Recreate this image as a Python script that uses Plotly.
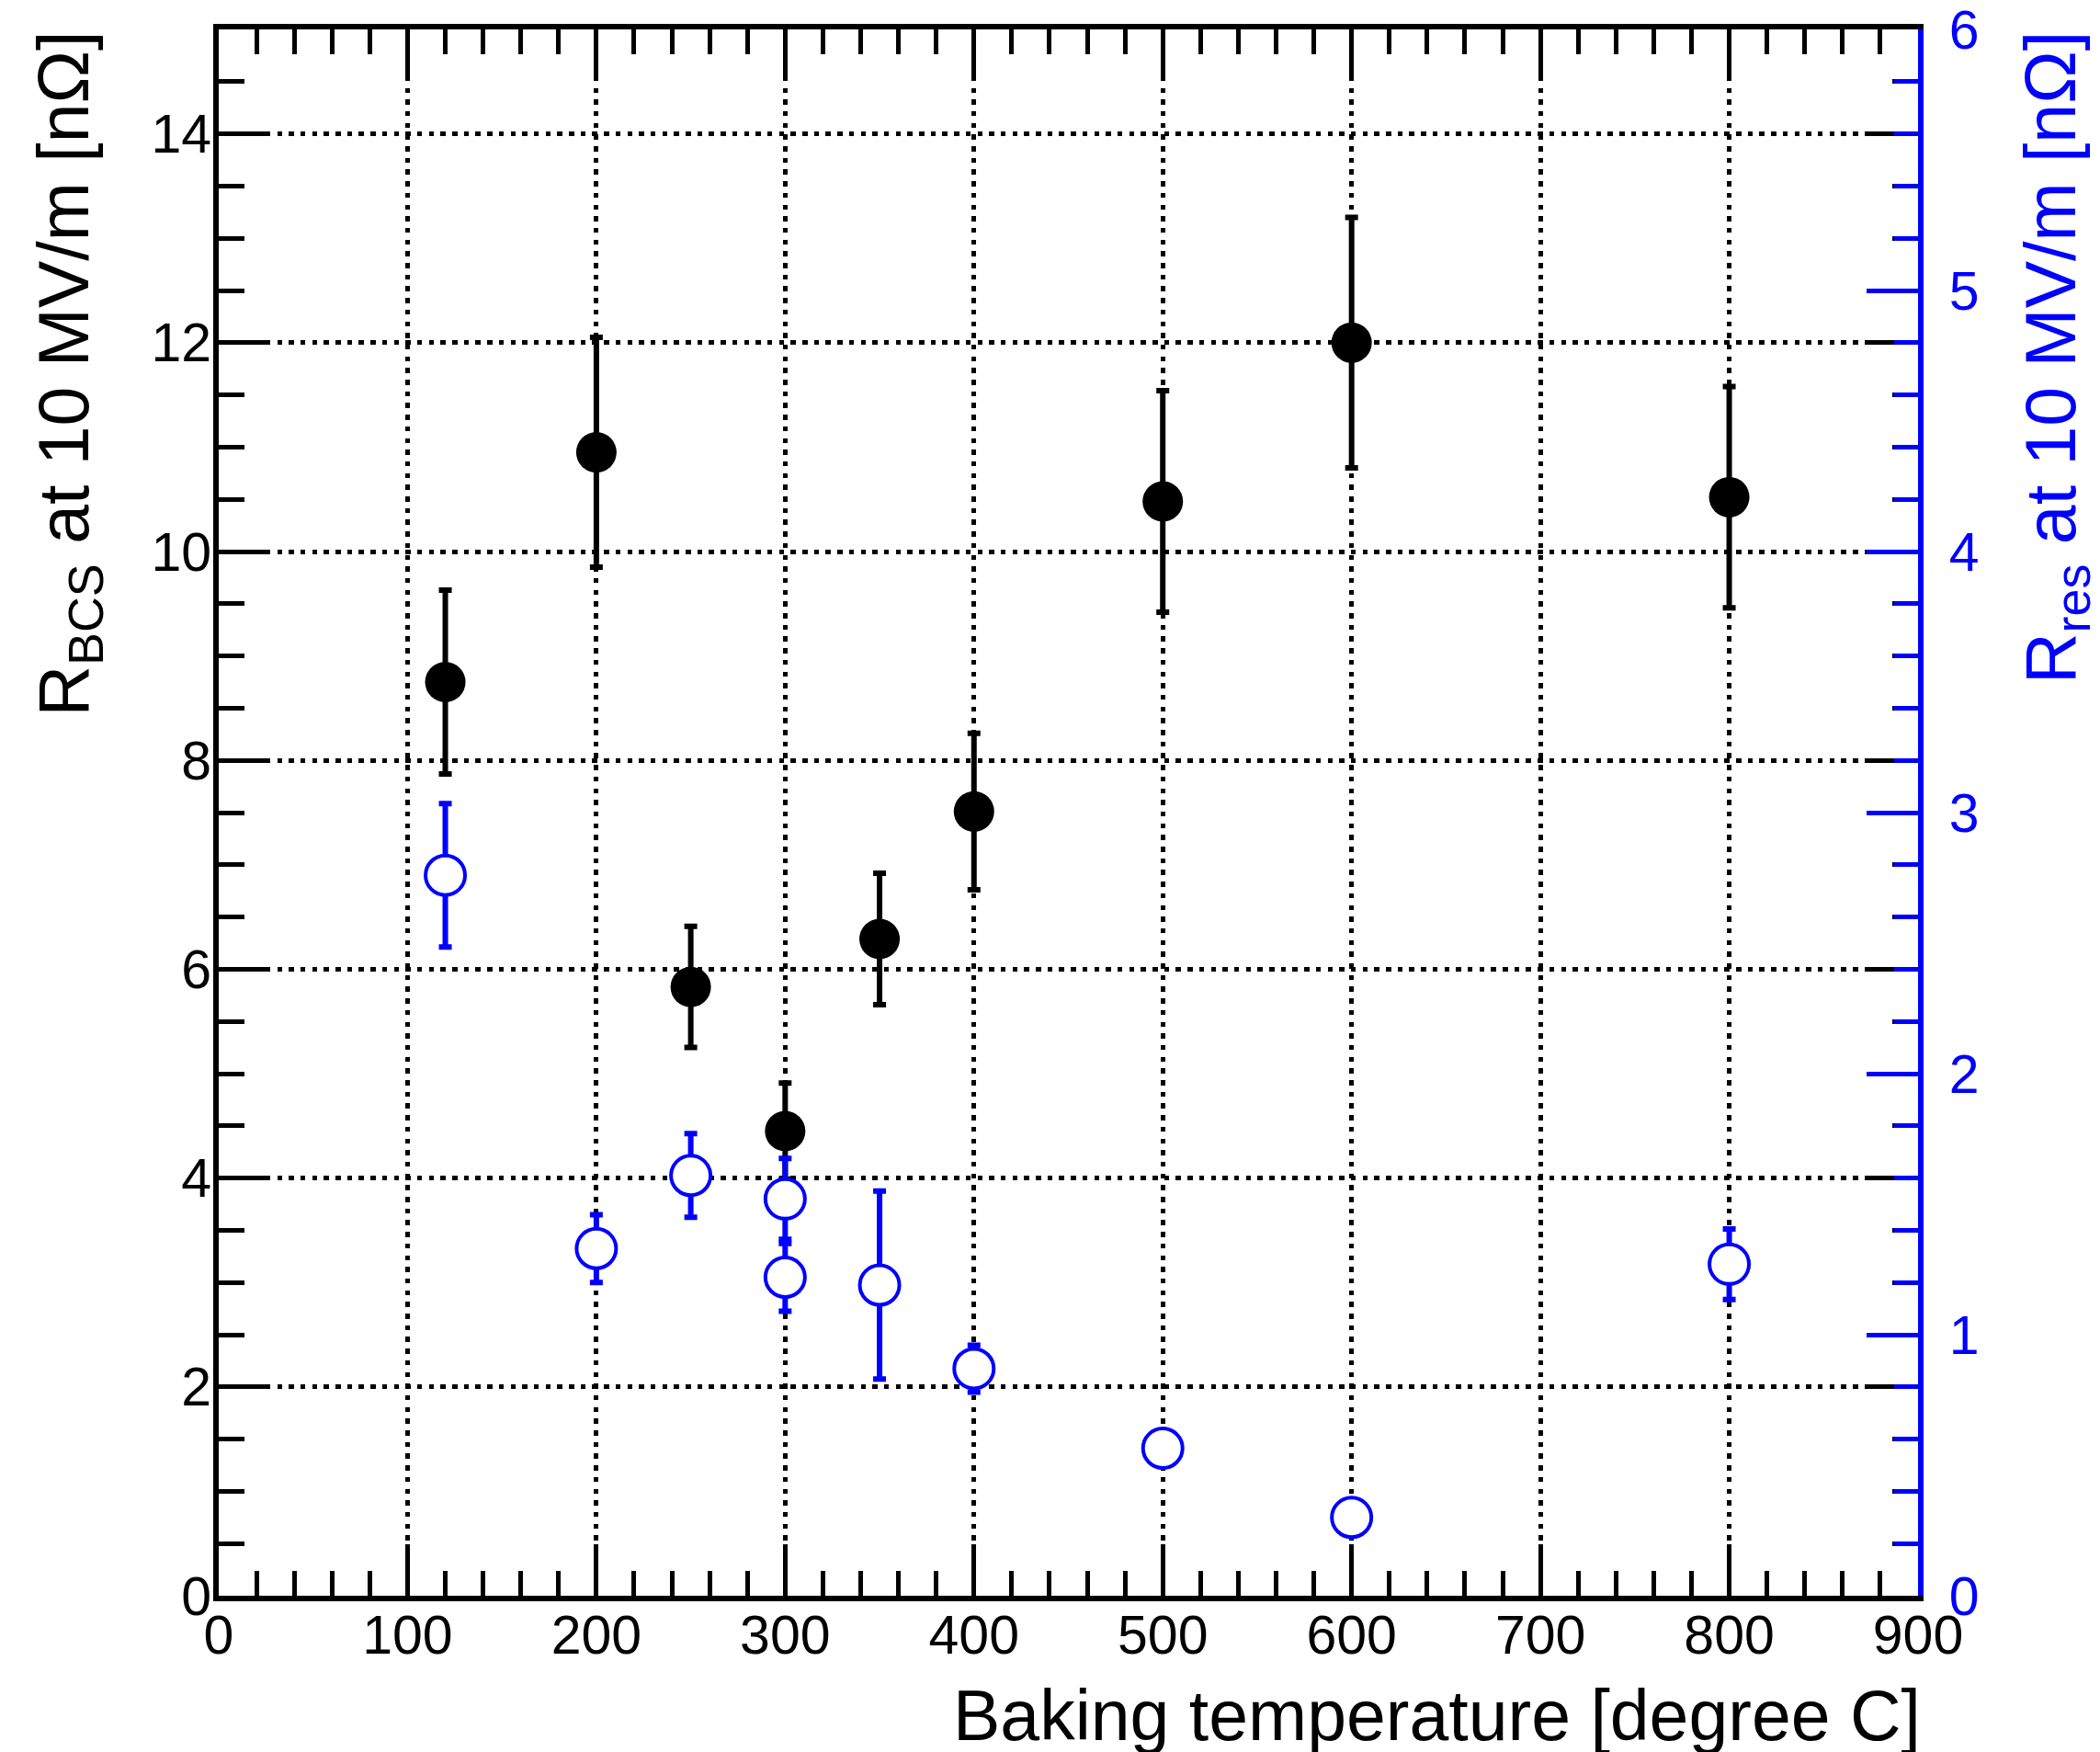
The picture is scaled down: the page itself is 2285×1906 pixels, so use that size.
import plotly.graph_objects as go

# ---- data ----
temps_bcs = [120, 200, 250, 300, 350, 400, 500, 600, 800]
r_bcs = [8.75, 10.95, 5.83, 4.45, 6.29, 7.51, 10.48, 12.0, 10.52]
r_bcs_err = [0.88, 1.10, 0.58, 0.46, 0.63, 0.75, 1.06, 1.20, 1.06]

temps_res = [120, 200, 250, 300, 300, 350, 400, 500, 600, 800]
r_res = [2.76, 1.33, 1.61, 1.52, 1.22, 1.19, 0.87, 0.565, 0.30, 1.27]
r_res_err = [0.275, 0.13, 0.16, 0.155, 0.13, 0.36, 0.09, 0.04, 0.04, 0.135]

x_title = "Baking temperature [degree C]"
y_title = "R<sub>BCS</sub> at 10 MV/m [nΩ]"
y2_title = "R<sub>res</sub> at 10 MV/m [nΩ]"

FONT = "Liberation Sans, Arial, Helvetica, sans-serif"
BLUE = "#0000ff"
TICKFONT = 59
TITLEFONT = 77

fig = go.Figure()

fig.add_trace(go.Scatter(
    x=temps_bcs, y=r_bcs, mode="markers",
    marker=dict(symbol="circle", size=44, color="black", line=dict(width=0)),
    error_y=dict(type="data", array=r_bcs_err, visible=True, color="black",
                 thickness=6, width=7),
    showlegend=False, yaxis="y", cliponaxis=False,
))

fig.add_trace(go.Scatter(
    x=temps_res, y=r_res, mode="markers",
    marker=dict(symbol="circle", size=43, color="white", line=dict(width=4, color=BLUE)),
    error_y=dict(type="data", array=r_res_err, visible=True, color=BLUE,
                 thickness=6, width=7),
    showlegend=False, yaxis="y2", cliponaxis=False,
))

common_grid = dict(gridcolor="black", gridwidth=4.5, griddash="5.5px,7.2px")

fig.update_layout(
    width=2277, height=1898,
    margin=dict(l=230, r=198, t=24, b=170, pad=0, autoexpand=False),
    paper_bgcolor="white", plot_bgcolor="white",
    font=dict(family=FONT, color="black"),
    xaxis=dict(
        range=[0, 900], dtick=100, tick0=0, automargin=False,
        showline=True, linecolor="black", linewidth=6, mirror="ticks",
        ticks="inside", ticklen=56, tickwidth=5, tickcolor="black",
        minor=dict(dtick=20, ticks="inside", ticklen=27, tickwidth=5,
                   tickcolor="black", showgrid=False),
        showgrid=True, **common_grid, zeroline=False,
        ticklabelstandoff=-14, ticklabeloverflow="allow",
        tickfont=dict(size=TICKFONT, family=FONT, color="black"),
    ),
    yaxis=dict(
        range=[0, 15], dtick=2, tick0=0, automargin=False,
        showline=True, linecolor="black", linewidth=6, mirror="ticks",
        ticks="inside", ticklen=56, tickwidth=5, tickcolor="black",
        minor=dict(dtick=0.5, ticks="inside", ticklen=28, tickwidth=5,
                   tickcolor="black", showgrid=False),
        showgrid=True, **common_grid, zeroline=False,
        ticklabelstandoff=-10, ticklabeloverflow="allow",
        tickfont=dict(size=TICKFONT, family=FONT, color="black"),
    ),
    yaxis2=dict(
        range=[0, 6.0005], dtick=1, tick0=0, overlaying="y", side="right",
        automargin=False,
        showline=True, linecolor=BLUE, linewidth=6,
        ticks="inside", ticklen=56, tickwidth=5, tickcolor=BLUE,
        minor=dict(dtick=0.2, ticks="inside", ticklen=26, tickwidth=5,
                   tickcolor=BLUE, showgrid=False),
        showgrid=False, zeroline=False,
        ticklabelstandoff=16, ticklabeloverflow="allow",
        tickfont=dict(size=TICKFONT, family=FONT, color=BLUE),
    ),
    annotations=[
        dict(text=x_title, xref="paper", yref="paper", x=1.0, y=-0.0765,
             xanchor="right", yanchor="middle", showarrow=False, xshift=5,
             font=dict(size=TITLEFONT, family=FONT, color="black")),
        dict(text=y_title, xref="paper", yref="paper", x=-0.0889, y=1.0,
             xanchor="center", yanchor="top", textangle=-90, showarrow=False,
             font=dict(size=TITLEFONT, family=FONT, color="black")),
        dict(text=y2_title, xref="paper", yref="paper", x=1.0806, y=1.0,
             xanchor="center", yanchor="top", textangle=-90, showarrow=False,
             font=dict(size=TITLEFONT, family=FONT, color=BLUE)),
    ],
)

fig.write_html("out.html")
